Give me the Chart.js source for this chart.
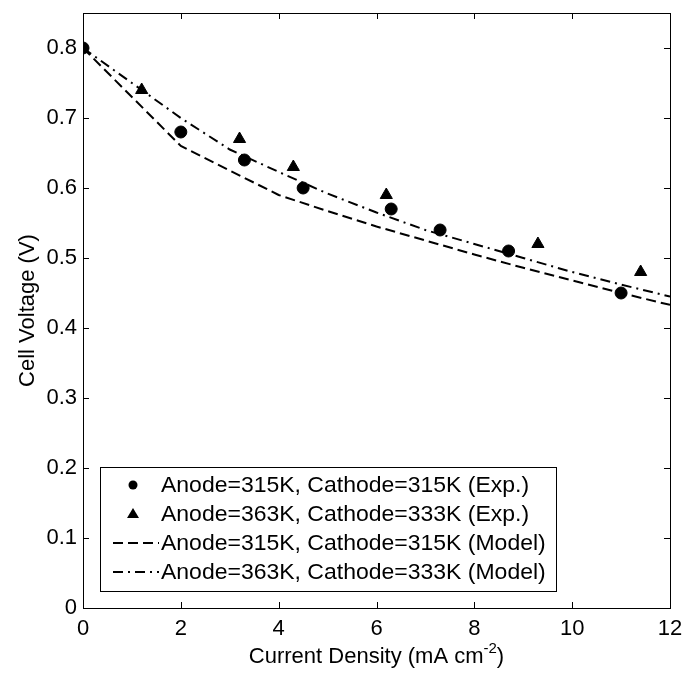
<!DOCTYPE html>
<html>
<head>
<meta charset="utf-8">
<script src="https://cdn.jsdelivr.net/npm/chart.js@4.4.1/dist/chart.umd.min.js"></script>
<style>
  html, body { margin: 0; padding: 0; background: #fff; }
  #wrap { width: 684px; height: 673px; }
</style>
</head>
<body>
<div id="wrap"><canvas id="chart" width="684" height="673"></canvas></div>
<script>
// --- data ---
const expCurrent315 = [0, 2.0, 3.3, 4.5, 6.3, 7.3, 8.7, 11.0];
const expVoltage315 = [0.80, 0.68, 0.64, 0.60, 0.57, 0.54, 0.51, 0.45];
const expCurrent363 = [1.2, 3.2, 4.3, 6.2, 9.3, 11.4];
const expVoltage363 = [0.74, 0.67, 0.63, 0.59, 0.52, 0.48];
const modelCurrent = [0, 1, 2, 3, 4, 5, 6, 7, 8, 9, 10, 11, 12];
const modelVoltage315 = [0.80, 0.73, 0.66, 0.625, 0.59, 0.567, 0.545, 0.525, 0.505, 0.486, 0.468, 0.45, 0.433];
const modelVoltage363 = [0.80, 0.75, 0.70, 0.655, 0.623, 0.592, 0.565, 0.54, 0.52, 0.50, 0.48, 0.462, 0.445];
const labels = [
  'Anode=315K, Cathode=315K (Exp.)',
  'Anode=363K, Cathode=333K (Exp.)',
  'Anode=315K, Cathode=315K (Model)',
  'Anode=363K, Cathode=333K (Model)'
];

const FONT = "'Liberation Sans', Arial, Helvetica, sans-serif";
const FS = 22;
const pts = (xs, ys) => xs.map((x, i) => ({ x, y: ys[i] }));

// no extra room for overflowing tick labels: the plot box is fixed
const noPad = s => {
  s.paddingLeft = 0; s.paddingRight = 0; s.paddingTop = 0; s.paddingBottom = 0;
};

// frame with inward ticks on all four sides, plus x title with superscript
const frame = {
  id: 'frame',
  afterDraw(chart) {
    const { ctx, chartArea: a, scales } = chart;
    ctx.save();
    ctx.strokeStyle = '#000';
    ctx.lineWidth = 1;
    ctx.strokeRect(Math.round(a.left) + 0.5, Math.round(a.top) + 0.5,
      Math.round(a.right - a.left), Math.round(a.bottom - a.top));
    const len = 6;
    ctx.beginPath();
    scales.x.ticks.forEach(t => {
      const px = Math.round(scales.x.getPixelForValue(t.value)) + 0.5;
      ctx.moveTo(px, a.bottom); ctx.lineTo(px, a.bottom - len);
      ctx.moveTo(px, a.top); ctx.lineTo(px, a.top + len);
    });
    scales.y.ticks.forEach(t => {
      const py = Math.round(scales.y.getPixelForValue(t.value)) + 0.5;
      ctx.moveTo(a.left, py); ctx.lineTo(a.left + len, py);
      ctx.moveTo(a.right, py); ctx.lineTo(a.right - len, py);
    });
    ctx.stroke();

    ctx.fillStyle = '#000';
    ctx.textBaseline = 'alphabetic';
    ctx.textAlign = 'left';
    const main = 'Current Density (mA cm';
    const sup = '-2';
    const end = ')';
    const supFont = Math.round(FS * 0.7) + 'px ' + FONT;
    const mainFont = FS + 'px ' + FONT;
    ctx.font = supFont;
    const wSup = ctx.measureText(sup).width;
    ctx.font = mainFont;
    const wMain = ctx.measureText(main).width;
    const wEnd = ctx.measureText(end).width;
    const x0 = (a.left + a.right) / 2 - (wMain + wSup + wEnd) / 2;
    const base = 663;
    ctx.fillText(main, x0, base);
    ctx.font = supFont;
    ctx.fillText(sup, x0 + wMain, base - 10);
    ctx.font = mainFont;
    ctx.fillText(end, x0 + wMain + wSup, base);
    ctx.restore();
  }
};

// legend box drawn inside the plot
const legendBox = {
  id: 'legendBox',
  afterDraw(chart) {
    const { ctx } = chart;
    const bx = 100, by = 467, bw = 456, bh = 124;
    ctx.save();
    ctx.fillStyle = '#fff';
    ctx.fillRect(bx, by, bw, bh);
    ctx.strokeStyle = '#000';
    ctx.lineWidth = 1;
    ctx.strokeRect(bx + 0.5, by + 0.5, bw, bh);
    chart.data.datasets.forEach((ds, i) => {
      const cy = 485 + i * 29;
      if (ds.showLine) {
        ctx.beginPath();
        ctx.setLineDash(ds.borderDash);
        ctx.lineWidth = ds.borderWidth;
        ctx.strokeStyle = '#000';
        ctx.moveTo(113, cy); ctx.lineTo(159, cy);
        ctx.stroke();
        ctx.setLineDash([]);
      } else {
        ctx.fillStyle = '#000';
        ctx.beginPath();
        if (ds.pointStyle === 'triangle') {
          ctx.moveTo(133, cy - 6); ctx.lineTo(139, cy + 4); ctx.lineTo(127, cy + 4);
          ctx.closePath();
        } else {
          ctx.arc(133, cy, 4.5, 0, Math.PI * 2);
        }
        ctx.fill();
      }
      ctx.save();
      ctx.translate(161, cy + 1);
      ctx.scale(1.045, 1);
      ctx.fillStyle = '#000';
      ctx.font = FS + 'px ' + FONT;
      ctx.textAlign = 'left';
      ctx.textBaseline = 'middle';
      ctx.fillText(ds.label, 0, 0);
      ctx.restore();
    });
    ctx.restore();
  }
};

new Chart(document.getElementById('chart'), {
  type: 'scatter',
  data: {
    datasets: [
      {
        label: labels[0],
        data: pts(expCurrent315, expVoltage315),
        pointStyle: 'circle',
        pointRadius: 6,
        backgroundColor: '#000',
        borderColor: '#000',
        showLine: false
      },
      {
        label: labels[1],
        data: pts(expCurrent363, expVoltage363),
        pointStyle: 'triangle',
        pointRadius: 7,
        backgroundColor: '#000',
        borderColor: '#000',
        showLine: false
      },
      {
        label: labels[2],
        data: pts(modelCurrent, modelVoltage315),
        showLine: true,
        pointRadius: 0,
        borderColor: '#000',
        borderWidth: 2,
        borderDash: [10, 5],
        tension: 0
      },
      {
        label: labels[3],
        data: pts(modelCurrent, modelVoltage363),
        showLine: true,
        pointRadius: 0,
        borderColor: '#000',
        borderWidth: 2,
        borderDash: [10, 5, 2, 5],
        tension: 0
      }
    ]
  },
  options: {
    responsive: false,
    animation: false,
    layout: { padding: { left: 0, top: 13, right: 14, bottom: 0 } },
    plugins: { legend: { display: false }, tooltip: { enabled: false } },
    scales: {
      x: {
        type: 'linear',
        min: 0, max: 12,
        grid: { display: false, drawTicks: false },
        border: { display: false },
        ticks: { stepSize: 2, padding: 8, color: '#000', font: { family: FONT, size: FS }, maxRotation: 0 },
        afterFit: s => { s.height = 65; noPad(s); }
      },
      y: {
        min: 0, max: 0.85,
        grid: { display: false, drawTicks: false },
        border: { display: false },
        ticks: {
          stepSize: 0.1, includeBounds: false, padding: 6, color: '#000',
          font: { family: FONT, size: FS },
          callback: v => (Math.round(v * 10) / 10).toString()
        },
        title: {
          display: true, text: 'Cell Voltage (V)', color: '#000',
          font: { family: FONT, size: FS }, padding: { top: 15, bottom: 0 }
        },
        afterFit: s => { s.width = 83; noPad(s); }
      }
    }
  },
  plugins: [frame, legendBox]
});
</script>
</body>
</html>
